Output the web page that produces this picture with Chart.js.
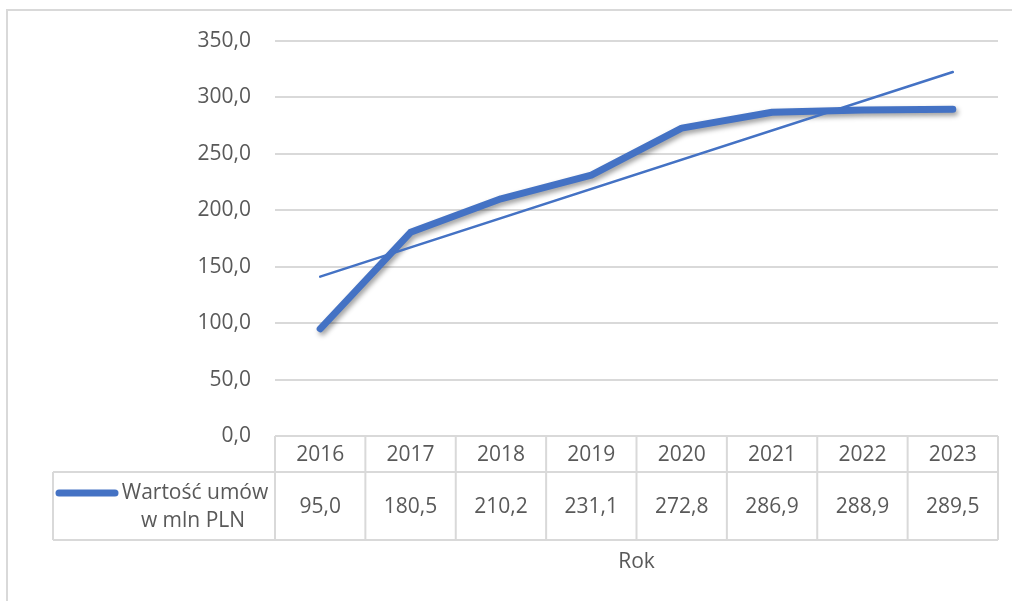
<!DOCTYPE html>
<html>
<head>
<meta charset="utf-8">
<script src="https://cdn.jsdelivr.net/npm/chart.js@4"></script>
<style>
  html, body { margin: 0; padding: 0; background: #ffffff; }
  canvas { display: block; }
</style>
</head>
<body>
<canvas id="c" width="1012" height="601"></canvas>
<script>
// ---- data ----
const years = ['2016', '2017', '2018', '2019', '2020', '2021', '2022', '2023'];
const values = [95.0, 180.5, 210.2, 231.1, 272.8, 286.9, 288.9, 289.5];
// linear trendline end points (gaps are spanned)
const trendValues = [141.2, null, null, null, null, null, null, 322.5];
const seriesName = ['Wartość umów', 'w mln PLN'];
const axisTitle = 'Rok';
const yMin = 0, yMax = 350, yStep = 50;

const FONT = '"Open Sans", "Noto Sans", sans-serif';
const TXT = '#595959';
const GRID = '#d9d9d9';
const BLUE = '#4472C4';
const fmt = v => v.toFixed(1).replace('.', ',');

const shadowPlugin = {
  id: 'shadow',
  beforeDatasetDraw(chart, args) {
    if (args.index !== 1) return;
    const ctx = chart.ctx;
    ctx.save();
    ctx.shadowColor = 'rgba(0,0,0,0.38)';
    ctx.shadowBlur = 5;
    ctx.shadowOffsetX = 2;
    ctx.shadowOffsetY = 3;
  },
  afterDatasetDraw(chart, args) {
    if (args.index !== 1) return;
    chart.ctx.restore();
  }
};

const tablePlugin = {
  id: 'dataTable',
  afterDraw(chart) {
    const ctx = chart.ctx;
    const a = chart.chartArea;
    const n = years.length;
    const w = (a.right - a.left) / n;
    const top = a.bottom;
    const mid = 472;
    const bot = 540;
    const legLeft = 53;
    ctx.save();
    // outer chart border
    ctx.strokeStyle = GRID;
    ctx.lineWidth = 2;
    ctx.strokeRect(7, 10, 1200, 800);
    // table lines
    ctx.beginPath();
    ctx.moveTo(a.left, top); ctx.lineTo(a.right, top);
    ctx.moveTo(legLeft, mid); ctx.lineTo(a.right, mid);
    ctx.moveTo(legLeft, bot); ctx.lineTo(a.right, bot);
    for (let i = 0; i <= n; i++) {
      const x = a.left + i * w;
      ctx.moveTo(x, top); ctx.lineTo(x, bot);
    }
    ctx.moveTo(legLeft, mid); ctx.lineTo(legLeft, bot);
    ctx.stroke();
    // text
    ctx.fillStyle = TXT;
    ctx.font = '21px ' + FONT;
    ctx.textAlign = 'center';
    ctx.textBaseline = 'middle';
    for (let i = 0; i < n; i++) {
      const cx = chart.scales.x.getPixelForValue(i);
      ctx.fillText(years[i], cx, (top + mid) / 2 + 1);
      ctx.fillText(fmt(values[i]), cx, (mid + bot) / 2 + 1);
    }
    // legend key
    ctx.strokeStyle = BLUE;
    ctx.lineWidth = 7;
    ctx.lineCap = 'round';
    ctx.beginPath();
    ctx.moveTo(59, 493); ctx.lineTo(115, 493);
    ctx.stroke();
    ctx.fillText(seriesName[0], 195, 493);
    ctx.fillText(seriesName[1], 193, 521);
    // axis title
    ctx.fillText(axisTitle, (a.left + a.right) / 2, 562);
    ctx.restore();
  }
};

new Chart(document.getElementById('c'), {
  type: 'line',
  data: {
    labels: years,
    datasets: [
      {
        label: 'Trend',
        data: trendValues,
        borderColor: BLUE,
        borderWidth: 2.5,
        borderCapStyle: 'round',
        pointRadius: 0,
        spanGaps: true,
        order: 0
      },
      {
        label: seriesName.join(' '),
        data: values,
        borderColor: BLUE,
        borderWidth: 7,
        borderCapStyle: 'round',
        borderJoinStyle: 'round',
        pointRadius: 0,
        tension: 0,
        order: 1
      }
    ]
  },
  options: {
    responsive: false,
    animation: false,
    devicePixelRatio: 1,
    layout: { padding: { left: 0, top: 41, right: 14, bottom: 165 } },
    plugins: { legend: { display: false }, tooltip: { enabled: false } },
    scales: {
      x: { display: false, offset: true },
      y: {
        min: yMin, max: yMax,
        ticks: {
          stepSize: yStep,
          padding: 24,
          color: TXT,
          font: { family: FONT, size: 21 },
          callback: v => fmt(v)
        },
        grid: { color: GRID, lineWidth: 2, drawTicks: false },
        border: { display: false },
        afterFit: s => { s.width = 275; }
      }
    }
  },
  plugins: [shadowPlugin, tablePlugin]
});
</script>
</body>
</html>
